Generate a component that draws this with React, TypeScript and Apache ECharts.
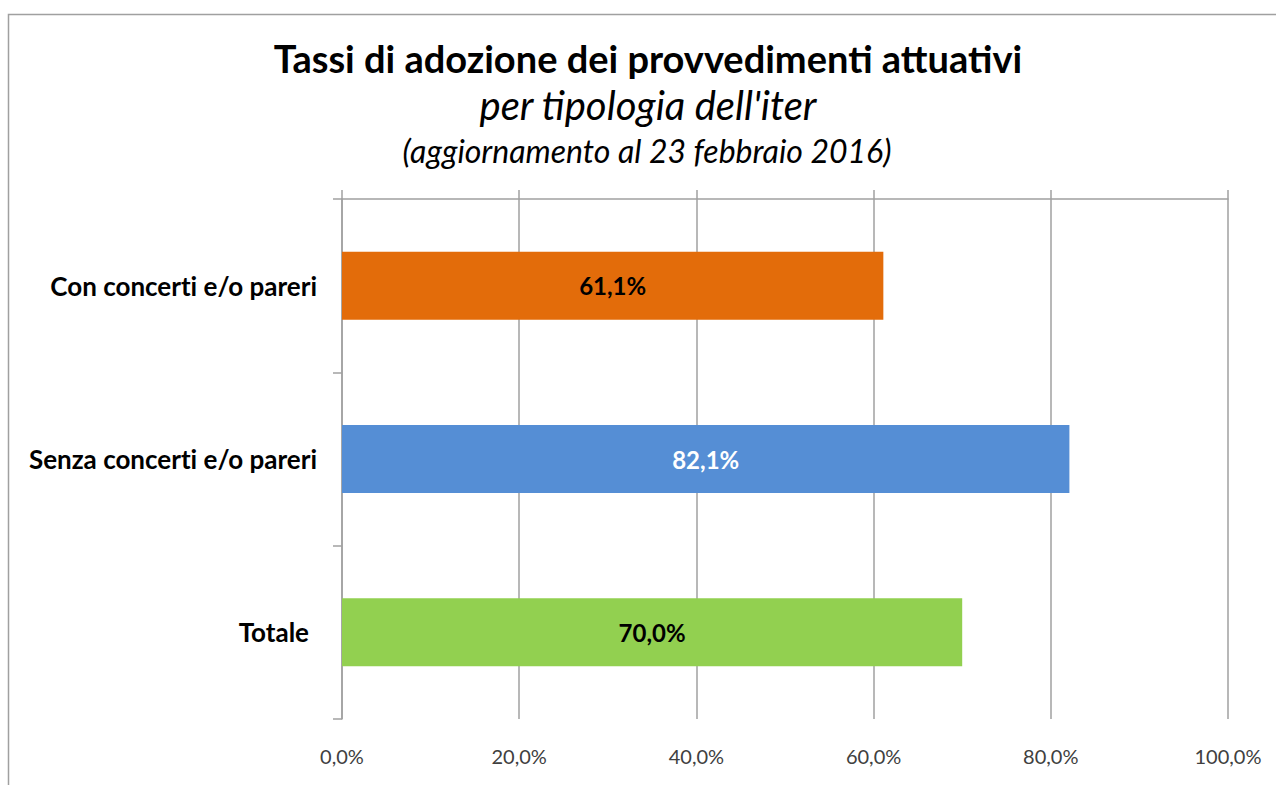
import React, { useEffect, useRef } from "react";
import * as echarts from "echarts";

const categories = ["Con concerti e/o pareri", "Senza concerti e/o pareri", "Totale"];
const values = [61.1, 82.1, 70.0];
const barColors = ["#E36C0A", "#558ED5", "#92D050"];
const labelColors = ["#000000", "#FFFFFF", "#000000"];
const xTicks = { min: 0, max: 100, interval: 20 };

const titleLines = [
  "Tassi di adozione dei provvedimenti attuativi",
  "per tipologia dell'iter",
  "(aggiornamento al 23 febbraio 2016)",
];

const fmt = (v: number) => v.toFixed(1).replace(".", ",") + "%";

export default function App() {
  const ref = useRef<HTMLDivElement>(null);
  useEffect(() => {
    document.body.style.margin = "0";
    const chart = echarts.init(ref.current!, null, { renderer: "svg" });
    const gridColor = "#a0a0a0";
    const font = "Lato";
    chart.setOption({
      animation: false,
      backgroundColor: "#ffffff",
      textStyle: { fontFamily: font },
      graphic: [
        {
          type: "rect",
          z: -10,
          shape: { x: 8.5, y: 14.5, width: 1400, height: 1000 },
          style: { fill: "none", stroke: "#a0a0a0", lineWidth: 1.5 },
        },
        {
          type: "text",
          x: 648,
          y: 58,
          style: {
            text: titleLines[0],
            font: `bold 38px ${font}`,
            fill: "#000",
            align: "center",
            verticalAlign: "middle",
          },
        },
        {
          type: "text",
          x: 648,
          y: 105,
          style: {
            text: titleLines[1],
            font: `italic 40px ${font}`,
            fill: "#000",
            align: "center",
            verticalAlign: "middle",
          },
        },
        {
          type: "text",
          x: 647,
          y: 150,
          style: {
            text: titleLines[2],
            font: `italic 32px ${font}`,
            fill: "#000",
            align: "center",
            verticalAlign: "middle",
          },
        },
      ],
      grid: { left: 342, right: 48, top: 199, bottom: 66, containLabel: false },
      xAxis: [
        {
          type: "value",
          position: "top",
          min: xTicks.min,
          max: xTicks.max,
          interval: xTicks.interval,
          axisLine: { show: true, lineStyle: { color: gridColor, width: 1.5 } },
          axisTick: { show: true, length: 9, inside: false, lineStyle: { color: gridColor, width: 1.5 } },
          axisLabel: { show: false },
          splitLine: { show: true, lineStyle: { color: gridColor, width: 1.5 } },
        },
        {
          type: "value",
          position: "bottom",
          min: xTicks.min,
          max: xTicks.max,
          interval: xTicks.interval,
          axisLine: { show: false },
          axisTick: { show: false },
          splitLine: { show: false },
          axisLabel: {
            show: true,
            formatter: (v: number) => fmt(v),
            fontSize: 20,
            color: "#404040",
            margin: 27,
            fontFamily: font,
          },
        },
      ],
      yAxis: {
        type: "category",
        data: categories,
        inverse: true,
        axisLine: { show: true, lineStyle: { color: gridColor, width: 1.5 } },
        axisTick: { show: true, length: 9, lineStyle: { color: gridColor, width: 1.5 } },
        axisLabel: {
          fontSize: 26,
          fontWeight: "bold",
          color: "#000",
          margin: 25,
          fontFamily: font,
          formatter: (v: string) => (v === "Totale" ? `{t|${v}}` : `{n|${v}}`),
          rich: {
            n: { fontSize: 26, fontWeight: "bold", color: "#000", fontFamily: font },
            t: {
              fontSize: 26,
              fontWeight: "bold",
              color: "#000",
              fontFamily: font,
              padding: [0, 8, 0, 0],
            },
          },
        },
        splitLine: { show: false },
      },
      series: [
        {
          type: "bar",
          xAxisIndex: 0,
          barWidth: 68,
          data: values.map((v, i) => ({
            value: v,
            itemStyle: { color: barColors[i] },
            label: { color: labelColors[i] },
          })),
          label: {
            show: true,
            position: "inside",
            formatter: (p: any) => fmt(p.value),
            fontSize: 24,
            fontWeight: "bold",
            fontFamily: font,
          },
        },
      ],
    });
    return () => chart.dispose();
  }, []);
  return (
    <div
      ref={ref}
      style={{ width: 1276, height: 785, fontVariantLigatures: "none" }}
    />
  );
}
